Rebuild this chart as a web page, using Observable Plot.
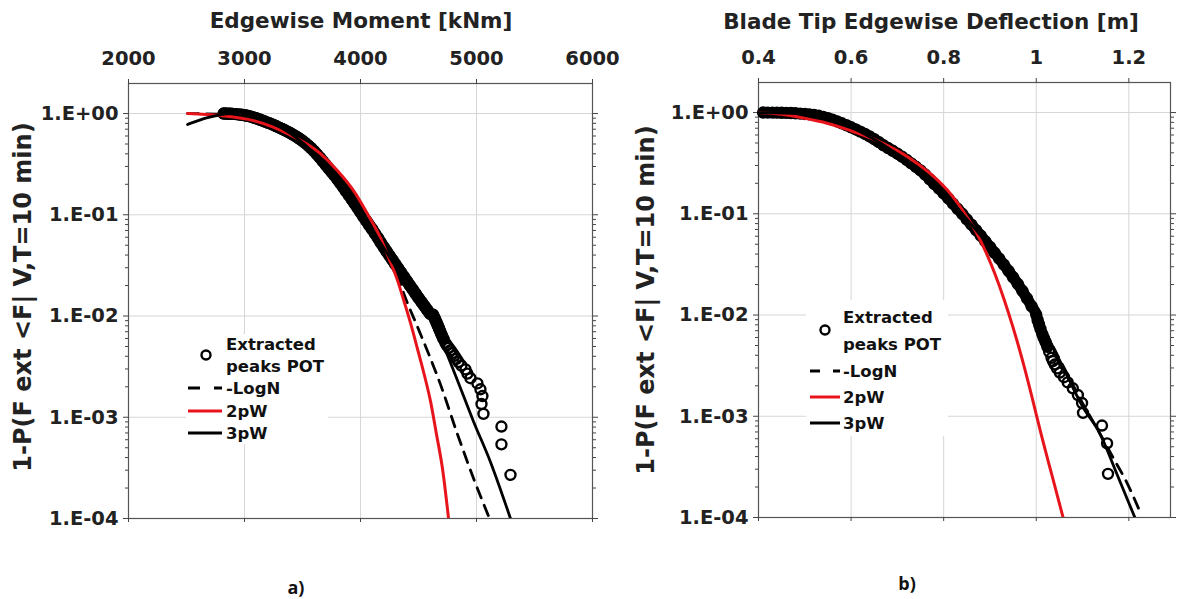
<!DOCTYPE html>
<html>
<head>
<meta charset="utf-8">
<script src="https://cdn.jsdelivr.net/npm/d3@7"></script>
<script src="https://cdn.jsdelivr.net/npm/@observablehq/plot@0.6"></script>
<style>
  body { margin: 0; background: #fff; }
  #page { position: relative; width: 1177px; height: 599px; overflow: hidden; background: #fff; }
  #page > * { position: absolute; }
</style>
</head>
<body>
<div id="page"></div>
<script>
// ---- shared y axis (exceedance probability, log scale) ----
const yTicks = [1e-4, 1e-3, 1e-2, 1e-1, 1];
const yTickLabels = ["1.E-04", "1.E-03", "1.E-02", "1.E-01", "1.E+00"];
const yLabel = "1-P(F ext <F| V,T=10 min)";

// ---- panel a: edgewise moment ----
const xTicksA = [2000, 3000, 4000, 5000, 6000];
const xTickLabelsA = ["2000", "3000", "4000", "5000", "6000"];
const titleA = "Edgewise Moment [kNm]";

const peaksMomentA = [
  2820, 2835, 2850, 2865, 2880, 2900, 2925, 2950, 2975, 3000, 3025, 3050, 3075, 3100, 3125, 3150,
  3175, 3200, 3225, 3250, 3275, 3300, 3325, 3350, 3375, 3400, 3425, 3450, 3475, 3500, 3525, 3550,
  3575, 3600, 3625, 3650, 3675, 3700, 3725, 3750, 3775, 3800, 3825, 3850, 3875, 3900, 3925, 3950,
  3975, 4000, 4025, 4050, 4075, 4100, 4125, 4150, 4175, 4200, 4225, 4250, 4275, 4300, 4325, 4350,
  4375, 4400, 4425, 4450, 4475, 4500, 4525, 4550, 4575, 4600,
  4625, 4635, 4645, 4655, 4665, 4676, 4688, 4700, 4715, 4732, 4745, 4760, 4776, 4793, 4810, 4827,
  4845, 4870, 4905, 4922, 4948, 5008, 5034, 5051, 5043, 5060, 5215, 5215, 5293
];
const peaksExceedA = [
  1.000, 0.999, 0.998, 0.997, 0.995, 0.992, 0.987, 0.980, 0.972, 0.962, 0.950, 0.935, 0.916, 0.898, 0.877, 0.856,
  0.834, 0.812, 0.793, 0.771, 0.748, 0.726, 0.704, 0.682, 0.659, 0.636, 0.612, 0.588, 0.563, 0.537, 0.510, 0.482,
  0.454, 0.425, 0.395, 0.366, 0.338, 0.312, 0.288, 0.266, 0.245, 0.225, 0.206, 0.188, 0.171, 0.156, 0.142, 0.129,
  0.117, 0.106, 0.096, 0.087, 0.079, 0.072, 0.065, 0.059, 0.053, 0.048, 0.0435, 0.0395, 0.0358, 0.0325, 0.0295, 0.0268,
  0.0243, 0.0221, 0.0201, 0.0183, 0.0166, 0.0151, 0.0138, 0.0126, 0.0115, 0.0105,
  0.0103, 0.00973, 0.00919, 0.00865, 0.00811, 0.00757, 0.00703, 0.00649, 0.00595, 0.00541, 0.00514, 0.00486, 0.00459, 0.00432, 0.00405, 0.00378,
  0.00351, 0.00324, 0.00297, 0.0027, 0.00243, 0.00216, 0.00189, 0.00162, 0.00135, 0.00108, 0.00081, 0.00054, 0.00027
];

const logNMomentA = [2509, 2800, 3078, 3371, 3655, 3940, 4172, 4284, 4388, 4500, 4690, 4836, 4974, 5112];
const logNExceedA = [1.0, 0.985, 0.91, 0.665, 0.36, 0.13, 0.053, 0.032, 0.015, 0.0074, 0.0021, 0.00068, 0.00025, 0.0001];

const twoPWMomentA = [2509, 2793, 3078, 3371, 3655, 3802, 3940, 4060, 4172, 4233, 4319, 4371, 4431, 4491, 4552, 4603, 4655, 4707, 4759];
const twoPWExceedA = [1.0, 0.955, 0.852, 0.634, 0.402, 0.272, 0.173, 0.102, 0.059, 0.040, 0.0225, 0.0145, 0.00854, 0.00475, 0.00257, 0.00145, 0.00068, 0.00031, 0.0001];

const threePWMomentA = [2509, 2600, 2681, 2780, 2879, 3078, 3371, 3655, 3940, 4172, 4405, 4629, 4802, 4974, 5121, 5293];
const threePWExceedA = [0.78, 0.85, 0.91, 0.965, 1.0, 0.93, 0.665, 0.35, 0.135, 0.053, 0.02, 0.0086, 0.0029, 0.00091, 0.00036, 0.0001];

// ---- panel b: blade tip edgewise deflection ----
const xTicksB = [0.4, 0.6, 0.8, 1, 1.2];
const xTickLabelsB = ["0.4", "0.6", "0.8", "1", "1.2"];
const titleB = "Blade Tip Edgewise Deflection [m]";

const peaksDeflB = [
  0.41, 0.42, 0.43, 0.44, 0.45, 0.46, 0.47, 0.48, 0.49, 0.50, 0.51, 0.52, 0.53, 0.54, 0.55, 0.56,
  0.57, 0.58, 0.59, 0.60, 0.61, 0.62, 0.63, 0.64, 0.65, 0.66, 0.67, 0.68, 0.69, 0.70, 0.71, 0.72,
  0.73, 0.74, 0.75, 0.76, 0.77, 0.78, 0.79, 0.80, 0.81, 0.82, 0.83, 0.84, 0.85, 0.86, 0.87, 0.88,
  0.89, 0.90, 0.91, 0.92, 0.93, 0.94, 0.95, 0.96, 0.97, 0.98, 0.99, 1.00,
  1.003, 1.006, 1.009, 1.013, 1.016, 1.020, 1.024, 1.028, 1.033, 1.036, 1.040, 1.045, 1.051, 1.060,
  1.068, 1.079, 1.090, 1.099, 1.101, 1.142, 1.153, 1.155
];
const peaksExceedB = [
  1.000, 0.999, 0.998, 0.997, 0.995, 0.992, 0.988, 0.983, 0.976, 0.968, 0.958, 0.945, 0.928, 0.905, 0.878, 0.848,
  0.816, 0.783, 0.749, 0.715, 0.681, 0.648, 0.614, 0.580, 0.545, 0.510, 0.475, 0.446, 0.419, 0.392, 0.366, 0.340,
  0.315, 0.291, 0.268, 0.244, 0.219, 0.196, 0.177, 0.159, 0.142, 0.126, 0.112, 0.100, 0.088, 0.078, 0.069, 0.061,
  0.0535, 0.047, 0.0412, 0.036, 0.0314, 0.0273, 0.0236, 0.0203, 0.0173, 0.0146, 0.0122, 0.0101,
  0.0089, 0.0081, 0.0073, 0.00649, 0.00595, 0.00541, 0.00486, 0.00432, 0.00378, 0.00351, 0.00324, 0.00297, 0.0027, 0.00243,
  0.00216, 0.00189, 0.00162, 0.00135, 0.00108, 0.00081, 0.00054, 0.00027
];

const logNDeflB = [0.40, 0.49, 0.56, 0.63, 0.70, 0.77, 0.84, 0.90, 0.95, 1.00, 1.05, 1.10, 1.137, 1.166, 1.196, 1.222];
const logNExceedB = [1.0, 0.975, 0.85, 0.61, 0.39, 0.22, 0.10, 0.047, 0.0236, 0.0101, 0.0037, 0.00135, 0.00068, 0.00039, 0.00022, 0.00012];

const twoPWDeflB = [0.40, 0.45, 0.491, 0.55, 0.598, 0.63, 0.670, 0.70, 0.743, 0.78, 0.814, 0.851, 0.87, 0.89, 0.91, 0.93, 0.95, 0.97, 0.99, 1.01, 1.034, 1.058];
const twoPWExceedB = [1.0, 0.96, 0.893, 0.78, 0.664, 0.59, 0.494, 0.42, 0.314, 0.23, 0.159, 0.092, 0.066, 0.043, 0.026, 0.0145, 0.0075, 0.0036, 0.0016, 0.00068, 0.00026, 0.0001];

const threePWDeflB = [0.40, 0.49, 0.56, 0.63, 0.70, 0.77, 0.84, 0.90, 0.95, 1.00, 1.05, 1.10, 1.137, 1.174, 1.213];
const threePWExceedB = [1.0, 0.975, 0.85, 0.61, 0.39, 0.22, 0.10, 0.047, 0.0236, 0.0101, 0.0036, 0.00125, 0.00068, 0.00027, 0.0001];

// ---- legend entries ----
const legendPeaks = ["Extracted", "peaks POT"];
const legendFits = ["LogN", "2pW", "3pW"];

const FONT = "'DejaVu Sans', sans-serif";
const RED = "#e8141b";

const toRows = (xs, ys) => xs.map((x, i) => ({x, y: ys[i]}));
const minorTicks = [];
for (let e = -4; e < 0; ++e) for (let m = 2; m <= 9; ++m) minorTicks.push(m * Math.pow(10, e));
const yFmt = d => yTickLabels[yTicks.indexOf(d)];

function panel({xDomain, xTicks, xTickLabels, width, marginLeft, marginRight, marginTop, marginBottom,
                peaks, denseBelow, ribbon, logN, twoPW, threePW}) {
  const xFmt = d => xTickLabels[xTicks.indexOf(d)];
  const blank = () => "";
  // where the peaks are packed tightly their overlapping markers merge into a solid ribbon
  const dense = peaks.filter(d => d.y >= denseBelow);
  return Plot.plot({
    width, height: 560, marginLeft, marginRight, marginTop, marginBottom,
    style: {fontFamily: FONT, fontWeight: "bold", color: "#222", background: "transparent", overflow: "visible"},
    x: {domain: xDomain},
    y: {type: "log", domain: [1e-4, 1.98]},
    marks: [
      Plot.gridX(xTicks, {stroke: "#d6d6d6", strokeOpacity: 1}),
      Plot.gridY(yTicks, {stroke: "#d6d6d6", strokeOpacity: 1}),
      Plot.frame({stroke: "#555", strokeWidth: 1.2}),
      Plot.axisX(xTicks, {anchor: "top", tickFormat: xFmt, tickSize: 5, tickPadding: 14, fontSize: 19.5, label: null, stroke: "#444"}),
      Plot.axisX(xTicks, {anchor: "bottom", tickFormat: blank, tickSize: 4, label: null, stroke: "#444"}),
      Plot.axisY(yTicks, {anchor: "left", tickFormat: yFmt, tickSize: 5, tickPadding: 5, fontSize: 19.5, label: null, stroke: "#444"}),
      Plot.axisY(minorTicks, {anchor: "left", tickFormat: blank, tickSize: 3, label: null, stroke: "#444"}),
      Plot.axisY(yTicks, {anchor: "right", tickFormat: blank, tickSize: 5, label: null, stroke: "#444"}),
      Plot.axisY(minorTicks, {anchor: "right", tickFormat: blank, tickSize: 3, label: null, stroke: "#444"}),
      Plot.line(dense, {x: "x", y: "y", stroke: "#000", strokeWidth: ribbon, strokeLinecap: "round", curve: "monotone-x"}),
      Plot.dot(peaks, {x: "x", y: "y", r: 5, stroke: "#000", strokeWidth: 2.4, fill: "none"}),
      Plot.line(logN, {x: "x", y: "y", stroke: "#000", strokeWidth: 2.8, strokeDasharray: "11,8", curve: "monotone-x", clip: true}),
      Plot.line(twoPW, {x: "x", y: "y", stroke: RED, strokeWidth: 3, curve: "monotone-x", clip: true}),
      Plot.line(threePW, {x: "x", y: "y", stroke: "#000", strokeWidth: 2.8, curve: "monotone-x", clip: true})
    ]
  });
}

const page = document.getElementById("page");

const plotA = panel({
  xDomain: [2000, 6000], xTicks: xTicksA, xTickLabels: xTickLabelsA,
  width: 600, marginLeft: 128, marginRight: 8, marginTop: 83, marginBottom: 42,
  peaks: toRows(peaksMomentA, peaksExceedA), denseBelow: 0.0055, ribbon: 12,
  logN: toRows(logNMomentA, logNExceedA),
  twoPW: toRows(twoPWMomentA, twoPWExceedA),
  threePW: toRows(threePWMomentA, threePWExceedA)
});
plotA.style.left = "0px"; plotA.style.top = "0px";
page.appendChild(plotA);

const plotB = panel({
  xDomain: [0.4, 1.29], xTicks: xTicksB, xTickLabels: xTickLabelsB,
  width: 577, marginLeft: 158, marginRight: 7, marginTop: 82, marginBottom: 43,
  peaks: toRows(peaksDeflB, peaksExceedB), denseBelow: 0.0045, ribbon: 11,
  logN: toRows(logNDeflB, logNExceedB),
  twoPW: toRows(twoPWDeflB, twoPWExceedB),
  threePW: toRows(threePWDeflB, threePWExceedB)
});
plotB.style.left = "600px"; plotB.style.top = "0px";
page.appendChild(plotB);

// ---- titles, rotated y labels, legends and panel tags ----
const ns = "http://www.w3.org/2000/svg";
const over = document.createElementNS(ns, "svg");
over.setAttribute("width", 1177); over.setAttribute("height", 599);
over.style.left = "0px"; over.style.top = "0px";
over.setAttribute("font-family", FONT);
over.setAttribute("font-weight", "bold");
page.appendChild(over);

function el(tag, attrs, text) {
  const e = document.createElementNS(ns, tag);
  for (const k in attrs) e.setAttribute(k, attrs[k]);
  if (text != null) e.textContent = text;
  over.appendChild(e);
  return e;
}

el("text", {x: 361, y: 28, "text-anchor": "middle", "font-size": 21.5, fill: "#222"}, titleA);
el("text", {x: 931, y: 29, "text-anchor": "middle", "font-size": 21.5, fill: "#222"}, titleB);
el("text", {transform: "translate(22,297) rotate(-90)", "text-anchor": "middle", dy: "0.36em", "font-size": 24, fill: "#222"}, yLabel);
el("text", {transform: "translate(645,300) rotate(-90)", "text-anchor": "middle", dy: "0.36em", "font-size": 24, fill: "#222"}, yLabel);

function legend(box, lx0, lx1, dash, tx, circle, rowY) {
  el("rect", {x: box[0], y: box[1], width: box[2], height: box[3], fill: "#fff"});
  el("circle", {cx: circle[0], cy: circle[1], r: 4.5, fill: "none", stroke: "#000", "stroke-width": 2.4});
  el("text", {x: tx, y: rowY[0], "font-size": 16.5, fill: "#111"}, legendPeaks[0]);
  el("text", {x: tx, y: rowY[1], "font-size": 16.5, fill: "#111"}, legendPeaks[1]);
  const styles = [
    {stroke: "#000", "stroke-dasharray": dash},
    {stroke: RED},
    {stroke: "#000"}
  ];
  legendFits.forEach((name, i) => {
    const y = rowY[2 + i];
    el("line", Object.assign({x1: lx0, x2: lx1, y1: y, y2: y, "stroke-width": 3}, styles[i]));
    el("text", {x: tx, y: y, dy: "0.36em", "font-size": 16.5, fill: "#111"}, (i === 0 ? "-" : "") + name);
  });
}
legend([186, 334, 142, 110], 188, 222, "12,14", 226, [206, 355], [350, 372, 388, 411, 433]);
legend([806, 300, 142, 136], 810, 840, "10,13", 843, [825, 330], [323, 350, 371, 397, 423]);

el("text", {x: 296, y: 594, "text-anchor": "middle", "font-family": "'Open Sans', sans-serif", "font-size": 18, fill: "#111"}, "a)");
el("text", {x: 907, y: 590, "text-anchor": "middle", "font-family": "'Open Sans', sans-serif", "font-size": 18, fill: "#111"}, "b)");
</script>
</body>
</html>
